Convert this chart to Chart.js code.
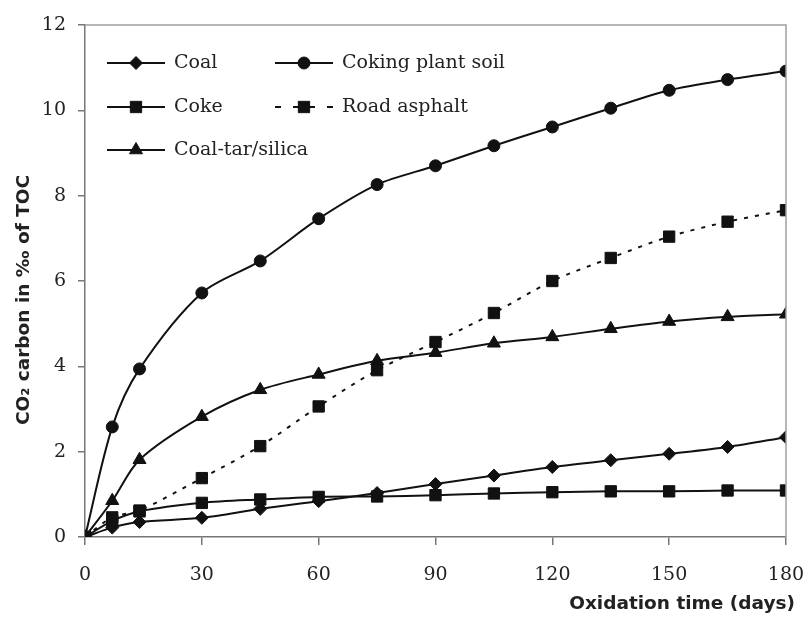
<!DOCTYPE html>
<html><head><meta charset="utf-8">
<script src="https://cdn.jsdelivr.net/npm/chart.js@4"></script>
<style>html,body{margin:0;padding:0;background:#fff}#wrap{width:808px;height:617px}</style>
</head><body><div id="wrap"><canvas id="c" width="808" height="617"></canvas></div>
<script>
const days = [0, 7, 14, 30, 45, 60, 75, 90, 105, 120, 135, 150, 165, 180];
const coal = [0, 0.22, 0.35, 0.45, 0.66, 0.84, 1.03, 1.24, 1.44, 1.64, 1.80, 1.95, 2.11, 2.34];
const cokingPlantSoil = [0, 2.58, 3.94, 5.72, 6.47, 7.46, 8.26, 8.70, 9.17, 9.61, 10.05, 10.47, 10.72, 10.92];
const coke = [0, 0.38, 0.60, 0.80, 0.88, 0.94, 0.95, 0.98, 1.02, 1.05, 1.07, 1.07, 1.09, 1.09];
const roadAsphalt = [0, 0.46, 0.62, 1.38, 2.13, 3.06, 3.91, 4.57, 5.25, 6.00, 6.54, 7.04, 7.39, 7.66];
const coalTarSilica = [0, 0.85, 1.81, 2.82, 3.45, 3.81, 4.13, 4.32, 4.54, 4.69, 4.88, 5.05, 5.16, 5.22];
const yTicks = [0, 2, 4, 6, 8, 10, 12];
const xTicks = [0, 30, 60, 90, 120, 150, 180];
const xTitle = 'Oxidation time (days)';
const yTitle = 'CO\u2082 carbon in \u2030 of TOC';

const INK = '#111';
function series(label, vals, style, radius, dashed) {
  return {
    label, data: days.map((d, i) => ({x: d, y: vals[i]})),
    borderColor: INK, backgroundColor: INK, borderWidth: 2,
    pointStyle: style, pointRadius: radius, pointHoverRadius: radius,
    pointBackgroundColor: INK, pointBorderColor: INK, pointBorderWidth: 1,
    borderDash: dashed ? [4, 7] : [], tension: 0.3, cubicInterpolationMode: 'default'
  };
}
const datasets = [
  series('Coal', coal, 'rectRot', 6.5, false),
  series('Coking plant soil', cokingPlantSoil, 'circle', 6, false),
  series('Coke', coke, 'rect', 8, false),
  series('Road asphalt', roadAsphalt, 'rect', 8, true),
  series('Coal-tar/silica', coalTarSilica, 'triangle', 7.5, false)
];

const legendPos = [[107, 63], [275, 63], [107, 107], [275, 107], [107, 150]];
const customDraw = {
  id: 'customDraw',
  afterDraw(chart) {
    const ctx = chart.ctx, a = chart.chartArea;
    ctx.save();
    ctx.strokeStyle = '#a0a0a0'; ctx.lineWidth = 1.5;
    ctx.beginPath();
    ctx.moveTo(a.left, a.top); ctx.lineTo(a.right, a.top); ctx.lineTo(a.right, a.bottom);
    ctx.stroke();
    chart.data.datasets.forEach((ds, i) => {
      const [lx, ly] = legendPos[i];
      ctx.strokeStyle = INK; ctx.fillStyle = INK; ctx.lineWidth = 2;
      if (ds.borderDash.length) {
        ctx.beginPath(); ctx.moveTo(lx, ly); ctx.lineTo(lx + 6, ly); ctx.stroke();
        ctx.beginPath(); ctx.moveTo(lx + 52, ly); ctx.lineTo(lx + 58, ly); ctx.stroke();
        ctx.beginPath(); ctx.moveTo(lx + 18, ly); ctx.lineTo(lx + 40, ly); ctx.stroke();
      } else {
        ctx.beginPath(); ctx.moveTo(lx, ly); ctx.lineTo(lx + 58, ly); ctx.stroke();
      }
      ctx.lineWidth = 1;
      Chart.helpers.drawPoint(ctx, {pointStyle: ds.pointStyle, radius: ds.pointRadius, rotation: 0, borderWidth: 1}, lx + 29, ly);
      ctx.font = '19px "DejaVu Serif"'; ctx.textBaseline = 'middle'; ctx.textAlign = 'left';
      ctx.fillStyle = '#222';
      ctx.fillText(ds.label, lx + 67, ly);
    });
    // x title
    ctx.font = 'bold 18.5px "DejaVu Sans"'; ctx.fillStyle = '#222';
    ctx.textAlign = 'right'; ctx.textBaseline = 'middle';
    ctx.fillText(xTitle, 795, 604);
    // y title
    ctx.translate(24, 300); ctx.rotate(-Math.PI / 2);
    ctx.textAlign = 'center'; ctx.textBaseline = 'middle';
    ctx.fillText(yTitle, 0, 0);
    ctx.restore();
  }
};

new Chart(document.getElementById('c'), {
  type: 'line',
  data: {datasets},
  options: {
    responsive: false, animation: false,
    layout: {padding: {left: 0, right: 22, top: 25, bottom: 0}},
    plugins: {legend: {display: false}, tooltip: {enabled: false}},
    scales: {
      x: {
        type: 'linear', min: 0, max: 180,
        afterBuildTicks: s => { s.ticks = xTicks.map(v => ({value: v})); },
        afterFit: s => { s.height = 80; s.paddingRight = 0; s.paddingLeft = 0; },
        grid: {drawOnChartArea: false, drawTicks: true, tickLength: 8, color: '#777', lineWidth: 1.5},
        border: {color: '#777', width: 1.5},
        ticks: {color: '#222', font: {family: 'DejaVu Serif', size: 19}, padding: 19, maxRotation: 0},
        title: {display: false}
      },
      y: {
        type: 'linear', min: 0, max: 12,
        afterBuildTicks: s => { s.ticks = yTicks.map(v => ({value: v})); },
        afterFit: s => { s.width = 85; s.paddingTop = 0; s.paddingBottom = 0; },
        grid: {drawOnChartArea: false, drawTicks: true, tickLength: 7, color: '#777', lineWidth: 1.5},
        border: {color: '#777', width: 1.5},
        ticks: {color: '#222', font: {family: 'DejaVu Serif', size: 19}, padding: 12},
        title: {display: false}
      }
    }
  },
  plugins: [customDraw]
});
</script>
</body></html>
